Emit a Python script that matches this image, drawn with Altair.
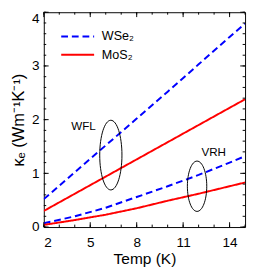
import altair as alt
import pandas as pd

# ---- data ----
temps = [2, 4, 6, 8, 10, 12, 14, 15]
wse2_wfl = [0.52, 1.02, 1.52, 2.02, 2.52, 3.03, 3.54, 3.79]
mos2_wfl = [0.30, 0.62, 0.94, 1.26, 1.58, 1.90, 2.22, 2.38]
wse2_vrh = [0.07, 0.20, 0.36, 0.56, 0.76, 0.97, 1.20, 1.32]
mos2_vrh = [0.04, 0.13, 0.23, 0.35, 0.49, 0.62, 0.76, 0.83]

materials = ["WSe₂", "MoS₂"]
colors = ["#0000ff", "#ff0000"]
dashes = [[7, 4], [1, 0]]

ellipse_names = ["WFL", "VRH"]
ellipse_T = [6.33, 11.9]
ellipse_k = [1.34, 0.76]
label_T = [4.56, 12.97]
label_k = [1.875, 1.39]

x_major = [2, 5, 8, 11, 14]
x_minor = [2, 3, 4, 5, 6, 7, 8, 9, 10, 11, 12, 13, 14, 15]
y_major = [0, 1, 2, 3, 4]
y_minor = [0, 0.2, 0.4, 0.6, 0.8, 1.0, 1.2, 1.4, 1.6, 1.8, 2.0, 2.2, 2.4,
           2.6, 2.8, 3.0, 3.2, 3.4, 3.6, 3.8, 4.0]

W, H = 208, 222
FONT = "Liberation Sans"

rows = []
for mat, model, vals in [("WSe₂", "WFL", wse2_wfl), ("MoS₂", "WFL", mos2_wfl),
                         ("WSe₂", "VRH", wse2_vrh), ("MoS₂", "VRH", mos2_vrh)]:
    for t, v in zip(temps, vals):
        rows.append({"material": mat, "model": model, "T": t, "k": v})
df = pd.DataFrame(rows)

xscale = alt.Scale(domain=[2, 15], nice=False, zero=False)
yscale = alt.Scale(domain=[0, 4], nice=False, zero=False)

xaxis = alt.Axis(values=x_major, format="d", title="Temp (K)", labelFont=FONT, labelFontSize=14,
                 titleFont=FONT, titleFontSize=16, titleFontWeight=300,
                 labelPadding=9, titlePadding=2, labelColor="black", titleColor="black")
yaxis = alt.Axis(values=y_major, format="d", title="κₑ (Wm⁻¹K⁻¹)", labelFont=FONT, labelFontSize=14,
                 titleFont=FONT, titleFontSize=17, titleFontWeight=300,
                 labelPadding=5, titlePadding=4, labelColor="black", titleColor="black",
                 labelBaseline=alt.ExprRef(expr="datum.value == 4 ? 'top' : 'middle'"))

lines = alt.Chart(df).mark_line(strokeWidth=2, clip=True).encode(
    x=alt.X("T:Q", scale=xscale, axis=xaxis),
    y=alt.Y("k:Q", scale=yscale, axis=yaxis),
    color=alt.Color("material:N", scale=alt.Scale(domain=materials, range=colors), legend=None),
    strokeDash=alt.StrokeDash("material:N", scale=alt.Scale(domain=materials, range=dashes), legend=None),
    detail="model:N",
)

ell_df = pd.DataFrame({"name": ellipse_names, "T": ellipse_T, "k": ellipse_k,
                       "lT": label_T, "lk": label_k})

ell_shapes = {
    "WFL": ("M-0.319,0A0.319,1 0 1,0 0.319,0A0.319,1 0 1,0 -0.319,0Z", 72 * 72),
    "VRH": ("M-0.385,0A0.385,1 0 1,0 0.385,0A0.385,1 0 1,0 -0.385,0Z", 52 * 52),
}
layers = [lines]
for name in ellipse_names:
    path, size = ell_shapes[name]
    layers.append(
        alt.Chart(ell_df).transform_filter(alt.datum.name == name)
        .mark_point(shape=path, size=size, filled=False, stroke="black",
                    strokeWidth=1, opacity=1)
        .encode(x=alt.X("T:Q", scale=xscale), y=alt.Y("k:Q", scale=yscale))
    )
layers.append(
    alt.Chart(ell_df).mark_text(font=FONT, fontSize=12, color="black")
    .encode(x=alt.X("lT:Q", scale=xscale), y=alt.Y("lk:Q", scale=yscale), text="name:N")
)

# inside ticks on all four sides
def xticks(vals, length):
    d = pd.DataFrame({"v": vals})
    bottom = alt.Chart(d).mark_rule(color="black", strokeWidth=1).encode(
        x=alt.X("v:Q", scale=xscale), y=alt.value(H), y2=alt.value(H - length))
    top = alt.Chart(d).mark_rule(color="black", strokeWidth=1).encode(
        x=alt.X("v:Q", scale=xscale), y=alt.value(0), y2=alt.value(length))
    return [bottom, top]

def yticks(vals, length):
    d = pd.DataFrame({"v": vals})
    left = alt.Chart(d).mark_rule(color="black", strokeWidth=1).encode(
        y=alt.Y("v:Q", scale=yscale), x=alt.value(0), x2=alt.value(length))
    right = alt.Chart(d).mark_rule(color="black", strokeWidth=1).encode(
        y=alt.Y("v:Q", scale=yscale), x=alt.value(W), x2=alt.value(W - length))
    return [left, right]

layers += xticks(x_major, 5) + xticks(x_minor, 2.5) + yticks(y_major, 5) + yticks(y_minor, 2.5)

# legend (manual guide)
for i, m in enumerate(materials):
    ly = 25 + 19 * i
    d = pd.DataFrame({"material": [m]})
    layers.append(alt.Chart(d).mark_rule(strokeWidth=2, color=colors[i], strokeDash=dashes[i]).encode(
        x=alt.value(18), x2=alt.value(52), y=alt.value(ly)))
    layers.append(alt.Chart(d).mark_text(font=FONT, fontSize=13, align="left", baseline="middle",
                                         color="black").encode(
        x=alt.value(60), y=alt.value(ly), text="material:N"))

chart = alt.layer(*layers).properties(
    width=W, height=H,
    padding={"left": 37, "top": 0, "right": 2, "bottom": 40},
    autosize=alt.AutoSizeParams(type="none"),
).configure_view(stroke="black", strokeWidth=1).configure_axis(
    domain=False, ticks=False, grid=False, titleFontWeight=300
)

chart.save("out.html", embed_options={"renderer": "svg", "actions": False})
